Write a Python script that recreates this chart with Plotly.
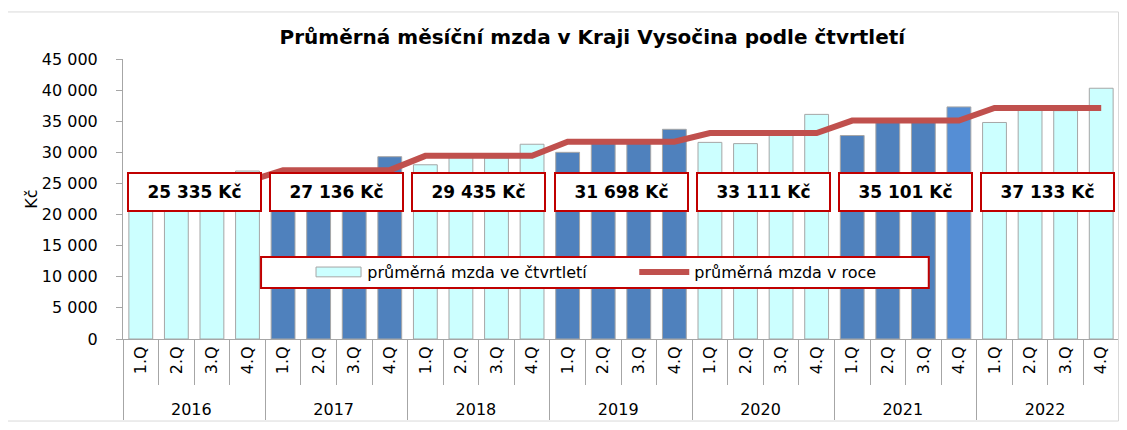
import plotly.graph_objects as go

# Quarterly average wage, Kraj Vysocina
years = ['2016', '2017', '2018', '2019', '2020', '2021', '2022']
quarters = ['1.Q', '2.Q', '3.Q', '4.Q']
wage_2016 = [23900, 25400, 25000, 27000]
wage_2017 = [25600, 27100, 26600, 29300]
wage_2018 = [28000, 29300, 29100, 31300]
wage_2019 = [30000, 31600, 31500, 33700]
wage_2020 = [31600, 31400, 33100, 36100]
wage_2021 = [32700, 35100, 35200, 37300]
wage_2022 = [34800, 36800, 36700, 40300]
year_avg = [25335, 27136, 29435, 31698, 33111, 35101, 37133]

# bar colours per year
cyan = '#CCFFFF'
blue = '#4F81BD'
blue_hi = '#558ED5'
edge = '#A6A6A6'
year_colors = [cyan, blue, cyan, blue, cyan, blue, cyan]

quarterly = [wage_2016, wage_2017, wage_2018, wage_2019, wage_2020, wage_2021, wage_2022]

x_year = []
x_q = []
y_bar = []
y_line = []
colors = []
for i, yr in enumerate(years):
    for j, q in enumerate(quarters):
        x_year.append(yr)
        x_q.append('\u00a0\u00a0' + q)  # padding pushes the year row down a bit
        y_bar.append(quarterly[i][j])
        y_line.append(year_avg[i])
        colors.append(year_colors[i])
colors[-5] = blue_hi  # 2021 4.Q is lighter

FONT = 'DejaVu Sans'

fig = go.Figure()
# legend-only entry for the bars (its wide swatch is drawn as a shape below)
fig.add_trace(go.Scatter(x=[[x_year[0]], [x_q[0]]], y=[None], mode='lines',
                         name='průměrná mzda ve čtvrtletí',
                         line=dict(color='rgba(0,0,0,0)', width=0)))
fig.add_trace(go.Bar(x=[x_year, x_q], y=y_bar, name='průměrná mzda ve čtvrtletí', showlegend=False,
                     marker=dict(color=colors, line=dict(color=edge, width=1))))
fig.add_trace(go.Scatter(x=[x_year, x_q], y=y_line, name='průměrná mzda v roce', mode='lines',
                         line=dict(color='#C0504D', width=6)))

n = len(x_q)
for i, v in enumerate(year_avg):
    label = f"{v:,}".replace(',', ' ') + ' Kč'
    fig.add_annotation(x=(4 * i + 2) / n, xref='paper', xanchor='center',
                       y=23600, yref='y', yanchor='middle',
                       text='<b>' + label + '</b>', showarrow=False,
                       font=dict(family=FONT, size=17, color='black'),
                       bgcolor='white', bordercolor='#C00000', borderwidth=2,
                       borderpad=2, width=127, height=32)

# legend frame
fig.add_shape(type='rect', xref='paper', yref='paper', x0=0.1386, x1=0.809, y0=0.182, y1=0.293,
              fillcolor='white', line=dict(color='#C00000', width=2), layer='above')
# wide bar swatch in the legend
fig.add_shape(type='rect', xref='paper', yref='paper', x0=0.1938, x1=0.239, y0=0.222, y1=0.257,
              fillcolor=cyan, line=dict(color=edge, width=1), layer='above')
# outer chart border
fig.add_shape(type='rect', xref='paper', yref='paper', x0=-0.1165, x1=0.9995, y0=-0.293, y1=1.168,
              fillcolor='rgba(0,0,0,0)', line=dict(color='#D9D9D9', width=1), layer='above')

fig.update_layout(
    width=1111, height=414,
    margin=dict(l=115, r=0, t=51, b=83),
    paper_bgcolor='white', plot_bgcolor='white',
    separators=', ',
    font=dict(family=FONT, size=16, color='black'),
    title=dict(text='<b>Průměrná měsíční mzda v Kraji Vysočina podle čtvrtletí</b>',
               x=0.526, xanchor='center', y=0.93, yanchor='middle', yref='container',
               font=dict(family=FONT, size=20, color='black')),
    bargap=0.33,
    showlegend=True,
    legend=dict(orientation='h', x=0.185, xanchor='left', y=0.239, yanchor='middle',
                bgcolor='rgba(0,0,0,0)', borderwidth=0, entrywidth=262,
                font=dict(family=FONT, size=16, color='black'), itemwidth=50),
)
fig.update_xaxes(showline=True, linecolor=edge, ticks='outside', tickson='boundaries',
                 ticklen=45, tickcolor=edge, tickangle=-90,
                 tickfont=dict(family=FONT, size=16, color='black'),
                 showdividers=True, dividercolor=edge, dividerwidth=1, showgrid=False)
fig.update_yaxes(range=[0, 45000], dtick=5000, tickformat=',d', showgrid=False,
                 showline=True, linecolor=edge, ticks='outside', ticklen=6,
                 tickcolor=edge, ticklabelstandoff=15,
                 tickfont=dict(family=FONT, size=16, color='black'),
                 title=dict(text='Kč', standoff=0, font=dict(family=FONT, size=16, color='black')))

fig.write_html("out.html")
